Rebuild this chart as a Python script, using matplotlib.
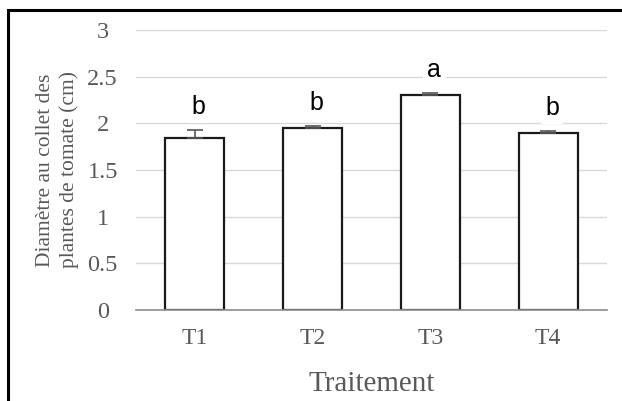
import matplotlib.pyplot as plt
from matplotlib.patches import Rectangle

traitements = ['T1', 'T2', 'T3', 'T4']
diametre = [1.84, 1.95, 2.30, 1.90]
erreur = [0.09, 0.02, 0.02, 0.02]
groupes = ['b', 'b', 'a', 'b']

fig = plt.figure(figsize=(6.22, 4.01), dpi=100)
ax = fig.add_axes([136 / 622, 1 - 310 / 401, 471 / 622, 280 / 401])

x = range(len(traitements))
ax.bar(x, diametre, width=0.5, color='white', edgecolor='#1a1a1a',
       linewidth=1.6, zorder=3)
ax.errorbar(x, diametre, yerr=[[0] * len(erreur), erreur], fmt='none',
            ecolor='#555555', elinewidth=1.2, capsize=6, capthick=1.2, zorder=4)

# lettres des groupes (test de comparaison) au-dessus des barres
for xi, yi, ei, g in zip(x, diametre, erreur, groupes):
    ax.annotate(g, (xi, yi + ei), xytext=(4, 16), textcoords='offset pixels',
                ha='center', va='baseline', fontsize=18, family='Liberation Sans',
                bbox=dict(facecolor='white', edgecolor='none', pad=3), zorder=5)

ax.set_xlim(-0.5, 3.5)
ax.set_ylim(0, 3)
ax.set_yticks([0, 0.5, 1, 1.5, 2, 2.5, 3])
ax.set_yticklabels(['0', '0.5', '1', '1.5', '2', '2.5', '3'])
ax.set_xticks(list(x))
ax.set_xticklabels(traitements)
ax.yaxis.grid(True, color='#d9d9d9', linewidth=1.0, zorder=0)
ax.set_axisbelow(True)

for s in ['top', 'right', 'left']:
    ax.spines[s].set_visible(False)
ax.spines['bottom'].set_color('#8c8c8c')
ax.spines['bottom'].set_linewidth(1.2)
ax.spines['bottom'].set_zorder(6)
ax.tick_params(axis='x', length=0, labelsize=17, labelcolor='#595959', pad=13)
ax.tick_params(axis='y', length=0, labelsize=17.5, labelcolor='#595959', pad=24)
for lab in ax.get_xticklabels() + ax.get_yticklabels():
    lab.set_family('Liberation Serif')
for lab in ax.get_yticklabels():
    lab.set_horizontalalignment('center')

ax.set_xlabel('Traitement', family='Liberation Serif', fontsize=21,
              color='#595959', labelpad=16)
ax.set_ylabel('Diamètre au collet des\nplantes de tomate (cm)',
              family='Liberation Serif', fontsize=15.5, color='#595959',
              labelpad=6, linespacing=1.3)

# cadre extérieur
fig.patches.append(Rectangle((8 / 622, -0.1), 1.1, 1 - 10 / 401 + 0.1,
                             transform=fig.transFigure, fill=False,
                             edgecolor='black', linewidth=2.2))

fig.savefig('out.png', dpi=100)
